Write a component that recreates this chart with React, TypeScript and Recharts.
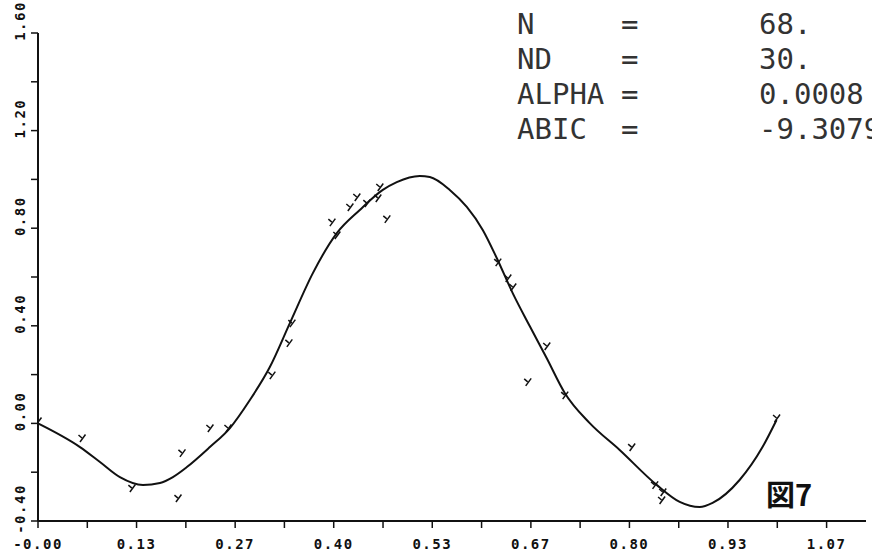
import { ComposedChart, Line, Scatter, XAxis, YAxis } from "recharts";

// fitted curve
const curveX = [0, 0.0568, 0.0838, 0.1108, 0.142, 0.165, 0.1825, 0.2014, 0.2325, 0.2596, 0.2866, 0.3136, 0.3407, 0.3718, 0.4042, 0.4353, 0.4664, 0.4853, 0.5164, 0.53, 0.557, 0.58, 0.6016, 0.6205, 0.6421, 0.6651, 0.688, 0.7125, 0.746, 0.7868, 0.8368, 0.868, 0.895, 0.9125, 0.949, 0.98, 0.999];
const curveY = [0.0, -0.097, -0.158, -0.22, -0.252, -0.244, -0.22, -0.179, -0.097, -0.019, 0.096, 0.231, 0.411, 0.616, 0.78, 0.875, 0.957, 0.989, 1.014, 1.01, 0.957, 0.887, 0.793, 0.678, 0.534, 0.399, 0.268, 0.125, 0.002, -0.109, -0.252, -0.322, -0.343, -0.326, -0.232, -0.097, 0.014];

// observations
const obsX = [0.0, 0.0595, 0.127, 0.1947, 0.1893, 0.2325, 0.2569, 0.3163, 0.3393, 0.3434, 0.3975, 0.4042, 0.4218, 0.4312, 0.4448, 0.4596, 0.4623, 0.4718, 0.6218, 0.6354, 0.6421, 0.6881, 0.6624, 0.7124, 0.803, 0.834, 0.845, 0.8435, 0.999];
const obsY = [0.01, -0.06, -0.265, -0.121, -0.306, -0.019, -0.019, 0.198, 0.33, 0.411, 0.825, 0.772, 0.887, 0.928, 0.903, 0.924, 0.969, 0.838, 0.661, 0.596, 0.559, 0.317, 0.17, 0.116, -0.097, -0.252, -0.281, -0.314, 0.022];

const xTicks = [0, 0.0667, 0.1333, 0.2, 0.2667, 0.3333, 0.4, 0.4667, 0.5333, 0.6, 0.6667, 0.7333, 0.8, 0.8667, 0.9333, 1.0, 1.0667];
const xLabels = ["-0.00", "", "0.13", "", "0.27", "", "0.40", "", "0.53", "", "0.67", "", "0.80", "", "0.93", "", "1.07"];
const yTicks = [-0.4, -0.2, 0, 0.2, 0.4, 0.6, 0.8, 1.0, 1.2, 1.4, 1.6];
const yLabels = ["-0.40", "", "0.00", "", "0.40", "", "0.80", "", "1.20", "", "1.60"];

const infoNames = ["N", "ND", "ALPHA", "ABIC"];
const infoValues = ["68.", "30.", "0.0008", "-9.3079"];

const curve = curveX.map((x, i) => ({ x, y: curveY[i] }));
const obs = obsX.map((x, i) => ({ x, y: obsY[i] }));

const tickFont = {
  fontFamily: "DejaVu Sans Mono",
  fontSize: 14,
  fontWeight: 700,
  letterSpacing: 1.5,
  fill: "#111",
};

const XTick = (props: any) => {
  const { x, index } = props;
  const label = xLabels[index] ?? "";
  if (!label) return null;
  return (
    <text x={x} y={549} textAnchor="middle" {...tickFont}>
      {label}
    </text>
  );
};

const YTick = (props: any) => {
  const { y, index } = props;
  const label = yLabels[index] ?? "";
  if (!label) return null;
  const cx = 20;
  const cy = y - 12;
  return (
    <text
      x={cx}
      y={cy}
      textAnchor="middle"
      dominantBaseline="central"
      transform={`rotate(-90, ${cx}, ${cy})`}
      {...tickFont}
    >
      {label}
    </text>
  );
};

const Mark = (props: any) => {
  const { cx, cy } = props;
  if (cx == null || cy == null) return null;
  return (
    <g stroke="#111" strokeWidth={1.5} fill="none">
      <line x1={cx - 3.5} y1={cy - 3} x2={cx} y2={cy} />
      <line x1={cx + 3.5} y1={cy - 3.5} x2={cx - 2} y2={cy + 4} />
    </g>
  );
};

export default function App() {
  return (
    <div style={{ position: "absolute", left: 0, top: 0, width: 872, height: 554, background: "#fff" }}>
      <ComposedChart width={872} height={554} margin={{ top: 33, right: 6, bottom: 0, left: 0 }}>
        <XAxis
          type="number"
          dataKey="x"
          domain={[0, 1.12]}
          allowDataOverflow
          ticks={xTicks}
          interval={0}
          height={33}
          tickSize={7}
          axisLine={{ stroke: "#111", strokeWidth: 2 }}
          tickLine={{ stroke: "#111", strokeWidth: 1.5 }}
          tick={<XTick />}
        />
        <YAxis
          type="number"
          dataKey="y"
          domain={[-0.4, 1.6]}
          allowDataOverflow
          ticks={yTicks}
          interval={0}
          width={38}
          tickSize={7}
          axisLine={{ stroke: "#111", strokeWidth: 2 }}
          tickLine={{ stroke: "#111", strokeWidth: 1.5 }}
          tick={<YTick />}
        />
        <Line
          data={curve}
          dataKey="y"
          type="monotone"
          stroke="#111"
          strokeWidth={2}
          dot={false}
          isAnimationActive={false}
        />
        <Scatter data={obs} dataKey="y" shape={<Mark />} isAnimationActive={false} />
      </ComposedChart>
      <svg
        width={872}
        height={554}
        style={{ position: "absolute", left: 0, top: 0, pointerEvents: "none" }}
      >
        {infoNames.map((name, i) => (
          <g key={name} fontFamily="DejaVu Sans Mono" fontSize={29} fill="#333">
            <text x={517} y={34 + i * 35}>{name}</text>
            <text x={621} y={34 + i * 35}>=</text>
            <text x={759} y={34 + i * 35}>{infoValues[i]}</text>
          </g>
        ))}
        <text x={766} y={506} fontFamily="Noto Sans CJK JP" fontSize={29} fontWeight={700} fill="#111">
          図7
        </text>
      </svg>
    </div>
  );
}
